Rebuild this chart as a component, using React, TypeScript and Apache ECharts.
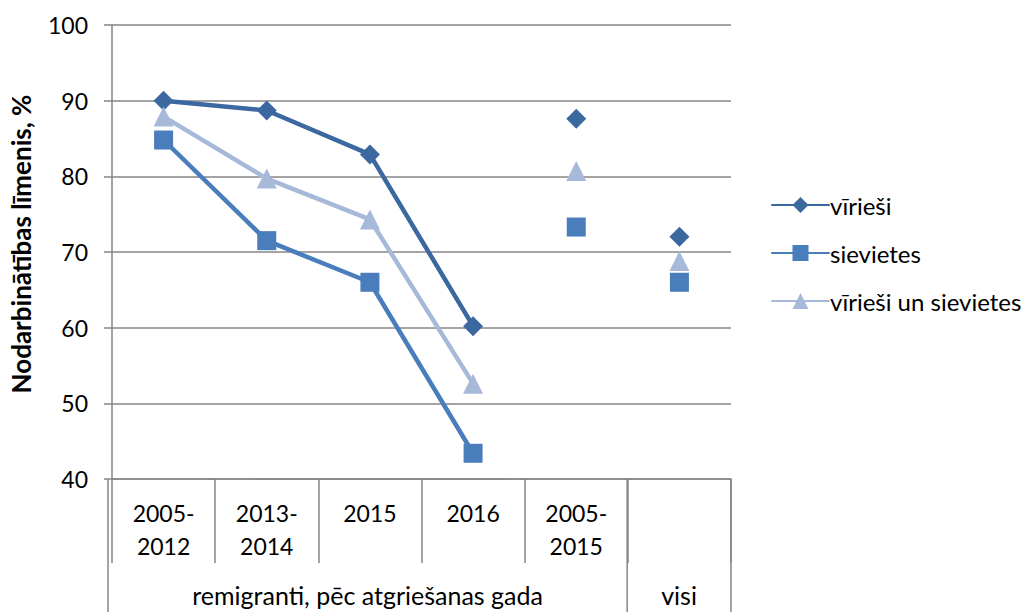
import React, { useEffect, useRef } from "react";
import * as echarts from "echarts";

const categories = ["2005-\n2012", "2013-\n2014", "2015", "2016", "2005-\n2015", ""];
const groupLabels = ["remigranti, pēc atgriešanas gada", "visi"];
const groupSpans = [5, 1];
const seriesNames = ["vīrieši", "sievietes", "vīrieši un sievietes"];
const virieši = [90.0, 88.7, 82.9, 60.2, 87.6, 72.0];
const sievietes = [84.8, 71.5, 66.0, 43.4, 73.3, 66.0];
const abi = [87.9, 79.7, 74.3, 52.6, 80.7, 68.8];
const connectedCount = 4;

const colors = ["#3C68A0", "#4A7DBC", "#A7B9D9"];
const symbols = ["diamond", "rect", "triangle"];
const symbolSizes = [20, 19, 20];

const FONT = "Lato, 'Open Sans', sans-serif";

export default function App() {
  const ref = useRef<HTMLDivElement>(null);
  useEffect(() => {
    if (!ref.current) return;
    const chart = echarts.init(ref.current, null, { renderer: "svg" });
    const data = [virieši, sievietes, abi];
    const left = 108, right = 300, top = 25, bottom = 133;
    const W = 1031, H = 612;
    const plotW = W - left - right;
    const band = plotW / categories.length;
    const axisY = H - bottom;

    const series: any[] = [];
    data.forEach((vals, i) => {
      series.push({
        name: seriesNames[i],
        type: "line",
        data: vals.map((v, j) => (j < connectedCount ? v : "-")),
        symbol: symbols[i],
        symbolSize: symbolSizes[i],
        itemStyle: { color: colors[i] },
        lineStyle: { color: colors[i], width: 4.5, cap: "round" },
        z: 3 + i,
      });
    });
    data.forEach((vals, i) => {
      series.push({
        name: seriesNames[i] + "_pts",
        type: "scatter",
        data: vals.map((v, j) => (j >= connectedCount ? v : "-")),
        symbol: symbols[i],
        symbolSize: symbolSizes[i],
        itemStyle: { color: colors[i], opacity: 1 },
        z: 3 + i,
      });
    });

    const graphic: any[] = [];
    const lineStyle = { stroke: "#868686", lineWidth: 1.5 };
    let acc = 0;
    const bounds = [0];
    groupSpans.forEach((s) => { acc += s; bounds.push(acc); });
    bounds.forEach((b) => {
      graphic.push({
        type: "line",
        shape: { x1: left + b * band, y1: axisY, x2: left + b * band, y2: H },
        style: lineStyle,
        silent: true,
      });
    });
    groupLabels.forEach((g, i) => {
      const cx = left + ((bounds[i] + bounds[i + 1]) / 2) * band;
      graphic.push({
        type: "text",
        x: cx,
        y: 595,
        style: {
          text: g,
          font: `25px ${FONT}`,
          fill: "#000",
          textAlign: "center",
          textVerticalAlign: "middle",
        },
      });
    });

    chart.setOption({
      animation: false,
      textStyle: { fontFamily: FONT },
      grid: { left, right, top, bottom },
      legend: {
        orient: "vertical",
        left: 771,
        top: 193,
        padding: 0,
        itemGap: 24,
        itemWidth: 57,
        itemHeight: 20,
        data: seriesNames,
        textStyle: { fontSize: 24, lineHeight: 24, color: "#000", fontFamily: FONT, padding: [0, 0, 0, -4] },
      },
      xAxis: {
        type: "category",
        data: categories,
        boundaryGap: true,
        axisLine: { lineStyle: { color: "#868686", width: 1.5 } },
        axisTick: { show: true, interval: 0, length: 84, lineStyle: { color: "#868686", width: 1.5 } },
        axisLabel: {
          interval: 0,
          color: "#000",
          fontSize: 23,
          lineHeight: 33,
          margin: 17,
          fontFamily: FONT,
          verticalAlign: "top",
        },
      },
      yAxis: {
        type: "value",
        min: 40,
        max: 100,
        interval: 10,
        name: "Nodarbinātības līmenis, %",
        nameLocation: "middle",
        nameGap: 78,
        nameTextStyle: { fontSize: 26, fontWeight: "bold", color: "#000", fontFamily: FONT, padding: [0, 0, 0, 16] },
        axisLine: { show: true, lineStyle: { color: "#868686", width: 1.5 } },
        axisTick: { show: true, length: 8, lineStyle: { color: "#868686", width: 1.5 } },
        axisLabel: { color: "#000", fontSize: 23, margin: 24, fontFamily: FONT },
        splitLine: { show: true, lineStyle: { color: "#868686", width: 1.5 } },
      },
      graphic,
      series,
    });
    return () => chart.dispose();
  }, []);
  return <div ref={ref} style={{ width: 1031, height: 612, position: "absolute", left: 0, top: 0, background: "#fff" }} />;
}
